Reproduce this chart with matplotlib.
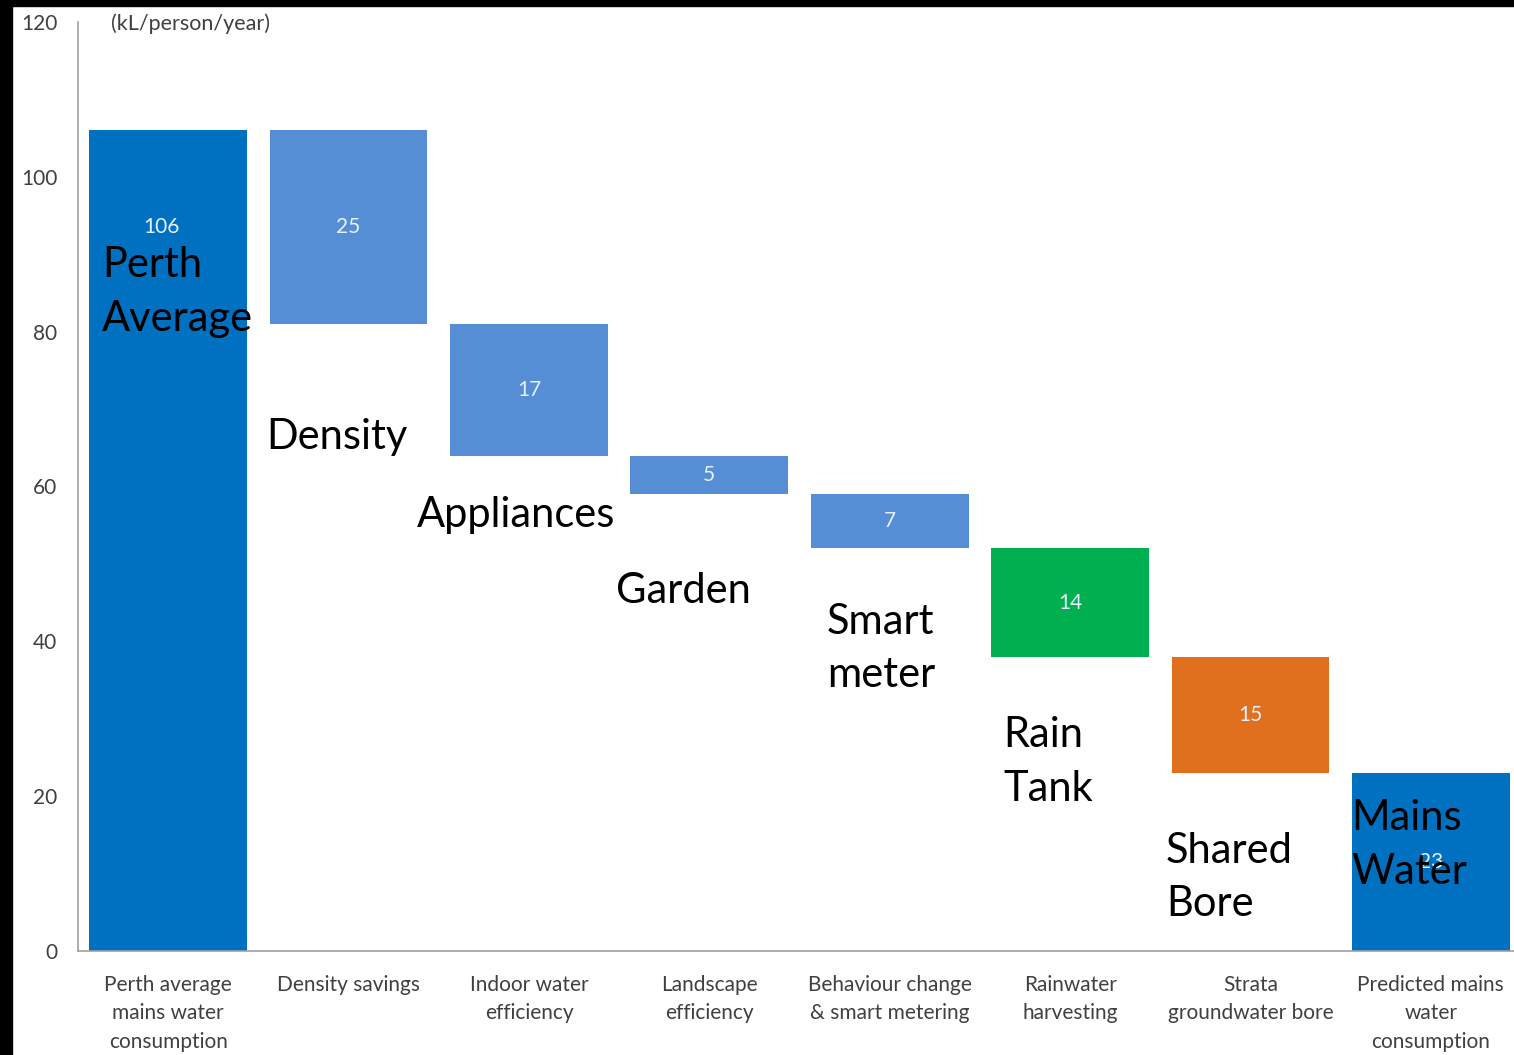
"""
Perth water consumption waterfall
"""
import matplotlib.pyplot as plt
from matplotlib.patches import Rectangle
import numpy as np

plt.rcParams['font.family'] = ['Lato', 'DejaVu Sans']

# 数据
categories = ['Perth average\nmains water\nconsumption', 'Density savings', 'Indoor water\nefficiency',
              'Landscape\nefficiency', 'Behaviour change\n& smart metering', 'Rainwater\nharvesting',
              'Strata\ngroundwater bore', 'Predicted mains\nwater\nconsumption']
values = [106, 25, 17, 5, 7, 14, 15, 23]
colors = ['#0070C0', '#558ED5', '#558ED5', '#558ED5', '#558ED5', '#00B050', '#E0701E', '#0070C0']

# 大字注释
notes = ['Perth\nAverage', 'Density', 'Appliances', 'Garden', 'Smart\nmeter', 'Rain\nTank', 'Shared\nBore', 'Mains\nWater']
note_xy = [(-0.366, 85.1), (0.543, 66.4), (1.380, 56.3), (2.483, 46.5),
           (3.652, 39.1), (4.628, 24.4), (5.531, 9.5), (6.557, 13.7)]

# 瀑布图底部
bottoms = [0]
level = values[0]
for v in values[1:-1]:
    level -= v
    bottoms.append(level)
bottoms.append(0)

x = np.arange(len(categories))

fig = plt.figure(figsize=(15.14, 10.55), dpi=100)
ax = fig.add_axes([78 / 1514, 104 / 1055, 1443 / 1514, 929 / 1055])

ax.bar(x, values, bottom=bottoms, width=0.875, color=colors)

for i, (v, b) in enumerate(zip(values, bottoms)):
    ymid = b + v / 2 if i > 0 else 93.5
    ax.text(x[i] - (0.035 if i == 0 else 0), ymid, str(v), ha='center', va='center',
            color='#E6F2FF', fontsize=15)

for t, (tx, ty) in zip(notes, note_xy):
    ax.text(tx, ty, t, ha='left', va='center', fontsize=30, color='black', linespacing=1.5)

ax.set_xlim(-0.5, 7.5)
ax.set_ylim(0, 120)
ax.set_yticks(range(0, 121, 20))
ax.set_xticks(x, categories)
ax.tick_params(axis='both', length=0, labelcolor='#404040')
ax.tick_params(axis='x', labelsize=15, pad=17)
ax.tick_params(axis='y', labelsize=15, pad=15)
for lab in ax.get_xticklabels():
    lab.set_linespacing(1.55)
    lab.set_va('top')

for s in ['top', 'right']:
    ax.spines[s].set_visible(False)
for s in ['left', 'bottom']:
    ax.spines[s].set_color('#A0A0A0')
    ax.spines[s].set_linewidth(1.2)

ax.text(0.023, 0.998, '(kL/person/year)', transform=ax.transAxes, ha='left', va='center',
        fontsize=15.5, color='#404040')

# 黑色边框
fig.add_artist(Rectangle((0, 0), 12 / 1514, 1, transform=fig.transFigure, color='black', zorder=10))
fig.add_artist(Rectangle((0, 1 - 6 / 1055), 1, 6 / 1055, transform=fig.transFigure, color='black', zorder=10))

plt.savefig('out.png', dpi=100)
